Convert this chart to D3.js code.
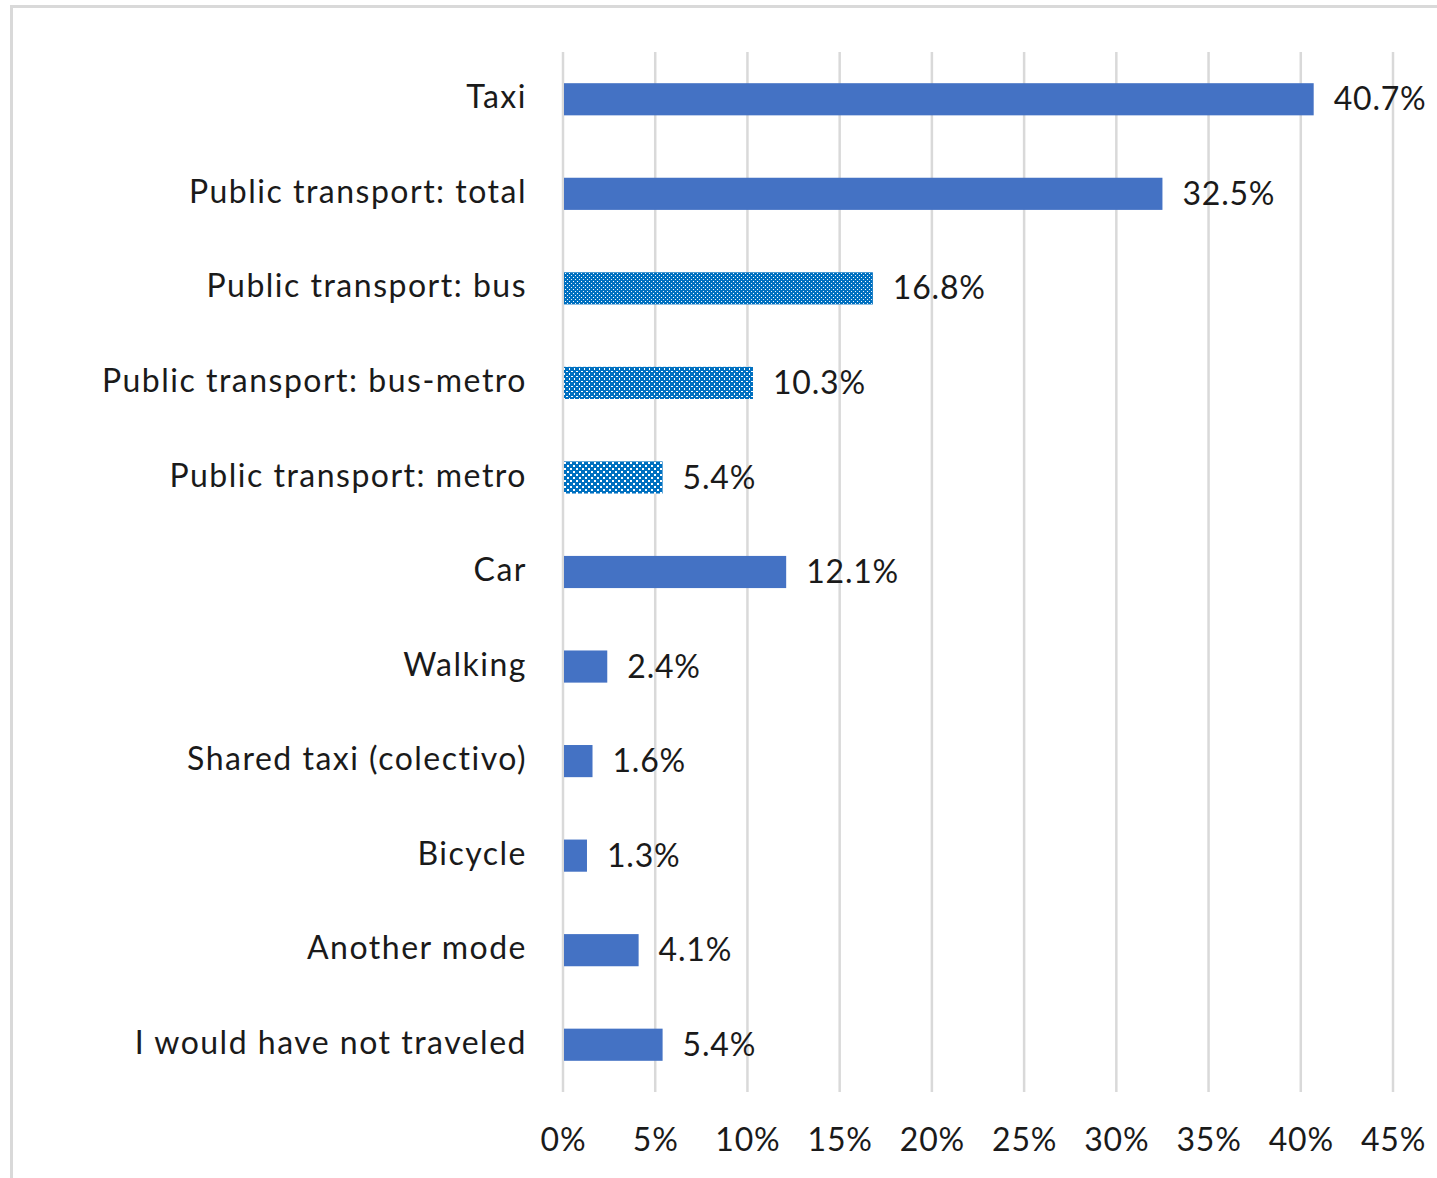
<!DOCTYPE html>
<html>
<head>
<meta charset="utf-8">
<script src="https://cdn.jsdelivr.net/npm/d3@7"></script>
<style>
  html, body { margin: 0; padding: 0; background: #fff; }
  svg { display: block; }
  text { font-family: Lato, "Open Sans", sans-serif; fill: #1a1a1a; }
</style>
</head>
<body>
<svg id="chart" width="1437" height="1178"></svg>
<script>
// Travel mode alternatives (share of respondents)
const categories = [
  "Taxi",
  "Public transport: total",
  "Public transport: bus",
  "Public transport: bus-metro",
  "Public transport: metro",
  "Car",
  "Walking",
  "Shared taxi (colectivo)",
  "Bicycle",
  "Another mode",
  "I would have not traveled"
];
const values = [40.7, 32.5, 16.8, 10.3, 5.4, 12.1, 2.4, 1.6, 1.3, 4.1, 5.4];
// fill style per bar: solid or one of the dotted patterns
const fills = ["solid", "solid", "dotsFine", "dotsMid", "dotsCoarse", "solid", "solid", "solid", "solid", "solid", "solid"];
const xTicks = [0, 5, 10, 15, 20, 25, 30, 35, 40, 45];

const svg = d3.select("#chart");
const W = 1437, H = 1178;

// outer frame (left and top edges visible)
svg.append("rect")
  .attr("x", 11.5).attr("y", 6.5)
  .attr("width", W + 20).attr("height", H + 20)
  .attr("fill", "#fff")
  .attr("stroke", "#d9d9d9").attr("stroke-width", 3);

const defs = svg.append("defs");
const blue = "#0070c0";
function dotPattern(id, size, dot) {
  const p = defs.append("pattern")
    .attr("id", id).attr("patternUnits", "userSpaceOnUse")
    .attr("width", size).attr("height", size);
  p.append("rect").attr("width", size).attr("height", size).attr("fill", blue);
  dot(p, size);
}
dotPattern("dotsFine", 4, (p) => {
  p.append("rect").attr("x", 1).attr("y", 1).attr("width", 1).attr("height", 1).attr("fill", "#fff");
  p.append("rect").attr("x", 3).attr("y", 3).attr("width", 1).attr("height", 1).attr("fill", "#e6f0fa");
});
dotPattern("dotsMid", 5, (p) => {
  p.append("rect").attr("x", 1).attr("y", 1).attr("width", 2).attr("height", 1).attr("fill", "#fff");
  p.append("rect").attr("x", 4).attr("y", 3).attr("width", 1).attr("height", 2).attr("fill", "#fff");
});
dotPattern("dotsCoarse", 6, (p) => {
  p.append("rect").attr("x", 0).attr("y", 0).attr("width", 2).attr("height", 2).attr("fill", "#fff");
  p.append("rect").attr("x", 3).attr("y", 3).attr("width", 2).attr("height", 2).attr("fill", "#fff");
});

const x = d3.scaleLinear().domain([0, 45]).range([563, 1393]);
const y = d3.scaleBand().domain(categories).range([52, 1092]).paddingInner(0.66).paddingOuter(0.33);

// vertical gridlines
svg.append("g")
  .selectAll("line").data(xTicks).join("line")
  .attr("x1", d => x(d)).attr("x2", d => x(d))
  .attr("y1", 52).attr("y2", 1092)
  .attr("stroke", "#d9d9d9").attr("stroke-width", 2.5);

// bars
svg.append("g")
  .selectAll("rect").data(categories).join("rect")
  .attr("x", x(0) + 1)
  .attr("y", d => y(d))
  .attr("width", (d, i) => x(values[i]) - x(0) - 1)
  .attr("height", y.bandwidth())
  .attr("fill", (d, i) => fills[i] === "solid" ? "#4472c4" : `url(#${fills[i]})`);

// value labels
svg.append("g")
  .selectAll("text").data(categories).join("text")
  .attr("x", (d, i) => x(values[i]) + 20)
  .attr("y", d => y(d) + y.bandwidth() / 2 + 3)
  .attr("dominant-baseline", "middle")
  .attr("font-size", 32)
  .attr("letter-spacing", 0.8)
  .text((d, i) => values[i].toFixed(1) + "%");

// category labels
svg.append("g")
  .selectAll("text").data(categories).join("text")
  .attr("x", 527)
  .attr("y", d => y(d) + y.bandwidth() / 2 + 1)
  .attr("text-anchor", "end")
  .attr("dominant-baseline", "middle")
  .attr("font-size", 32)
  .attr("letter-spacing", 1.5)
  .text(d => d);

// x-axis tick labels
const xAxis = d3.axisBottom(x).tickValues(xTicks).tickFormat(d => d + "%").tickSize(0).tickPadding(0);
const gx = svg.append("g").attr("transform", "translate(0,1128)").call(xAxis);
gx.select(".domain").remove();
gx.selectAll("text")
  .attr("font-size", 32)
  .attr("letter-spacing", 0.8)
  .attr("font-family", "Lato, 'Open Sans', sans-serif")
  .attr("fill", "#1a1a1a");
</script>
</body>
</html>
